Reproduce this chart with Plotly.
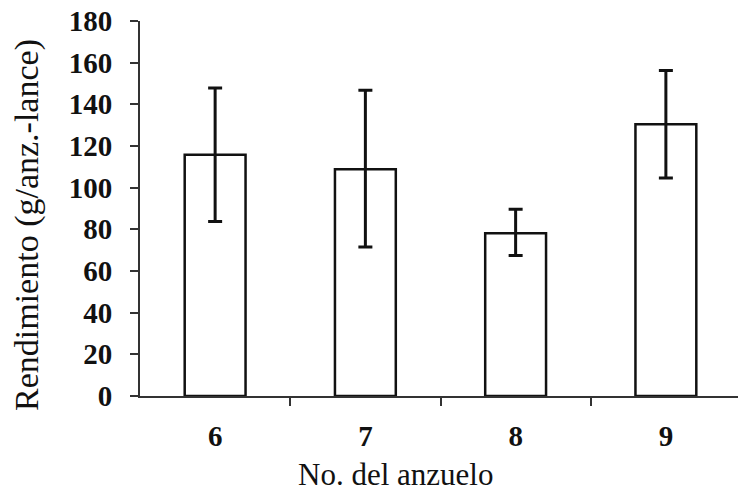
import plotly.graph_objects as go

categories = [6, 7, 8, 9]
means = [115.8, 108.8, 78.1, 130.4]
upper = [147.8, 146.8, 89.6, 156.2]
lower = [83.7, 71.5, 67.5, 104.6]

err_plus = [u - m for u, m in zip(upper, means)]
err_minus = [m - l for m, l in zip(means, lower)]

y_ticks = list(range(0, 181, 20))

FONT = "'Times New Roman', 'Liberation Serif', serif"
PLOT_L, PLOT_R, PLOT_T, PLOT_B = 140, 738, 21, 396

fig = go.Figure()
fig.add_trace(go.Bar(
    x=categories, y=means, width=0.405,
    marker=dict(color="white", line=dict(color="#111111", width=2.5)),
    error_y=dict(type="data", symmetric=False, array=err_plus, arrayminus=err_minus,
                 color="#111111", thickness=3, width=7),
))

fig.update_layout(
    width=738, height=492,
    margin=dict(l=PLOT_L, r=738 - PLOT_R, t=PLOT_T, b=492 - PLOT_B),
    paper_bgcolor="white", plot_bgcolor="white",
    showlegend=False,
    font=dict(family=FONT, color="#111111"),
    xaxis=dict(
        range=[5.5, 9.48], tickvals=categories, ticktext=[f"<b>{c}</b>" for c in categories],
        showline=True, linecolor="#333333", linewidth=2,
        ticks="", showgrid=False, zeroline=False,
        tickfont=dict(family=FONT, size=29, color="#111111"),
        minor=dict(tickvals=[6.5, 7.5, 8.5], ticks="outside", ticklen=8, tickwidth=2, tickcolor="#333333"),
        ticklabelstandoff=13,
    ),
    yaxis=dict(
        range=[0, 180], tickvals=y_ticks, ticktext=[f"<b>{v}</b>" for v in y_ticks],
        showline=True, linecolor="#333333", linewidth=2,
        ticks="outside", ticklen=8, tickwidth=2, tickcolor="#333333",
        showgrid=False, zeroline=False,
        tickfont=dict(family=FONT, size=29, color="#111111"),
        ticklabelstandoff=12,
    ),
    annotations=[
        dict(
            text="No. del anzuelo", xref="paper", yref="paper",
            x=(395 - PLOT_L) / (PLOT_R - PLOT_L), y=-(475 - PLOT_B) / (PLOT_B - PLOT_T),
            xanchor="center", yanchor="middle",
            showarrow=False, font=dict(family=FONT, size=31, color="#111111"),
        ),
        dict(
            text="Rendimiento (g/anz.-lance)", xref="paper", yref="paper", textangle=-90,
            x=(27 - PLOT_L) / (PLOT_R - PLOT_L), y=(PLOT_B - 225) / (PLOT_B - PLOT_T),
            xanchor="center", yanchor="middle",
            showarrow=False, font=dict(family=FONT, size=34, color="#111111"),
        ),
    ],
)

fig.write_html("out.html")
